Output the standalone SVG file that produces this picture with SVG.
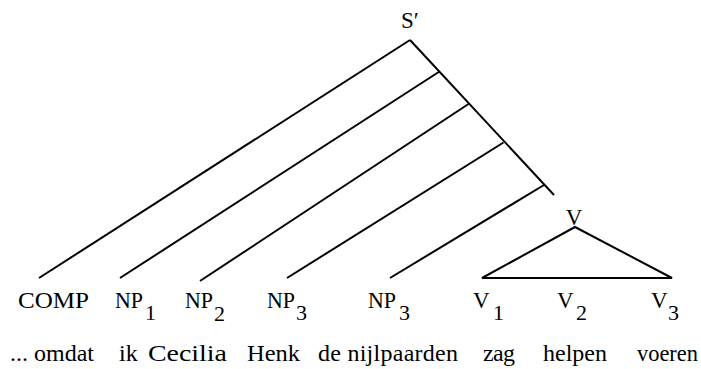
<svg xmlns="http://www.w3.org/2000/svg" width="701" height="369" viewBox="0 0 701 369">
<defs>
<style>
.e{stroke:#000;stroke-width:2;fill:none;stroke-linecap:butt}
.lbl{font-family:'Liberation Serif','Times New Roman',serif;font-size:23px;fill:#000}
.sub{font-size:22px}
.wd{font-family:'Liberation Serif','Times New Roman',serif;font-size:24px;fill:#000}
</style>
</defs>
<rect width="701" height="369" fill="#fff"/>
<g id="connectors">
<line class="e" x1="410" y1="40" x2="554" y2="195"/>
<line class="e" x1="410" y1="40" x2="39" y2="278"/>
<line class="e" x1="439.5" y1="71.5" x2="120" y2="278"/>
<line class="e" x1="468.5" y1="104" x2="200" y2="281"/>
<line class="e" x1="503.5" y1="142.5" x2="287" y2="278"/>
<line class="e" x1="544" y1="185" x2="390" y2="278"/>
<path class="e" d="M575 227 L482 278 L672 278 Z" stroke-linejoin="miter"/>
</g>
<g id="S"><text class="lbl" x="401" y="28" font-size="24">S′</text></g>
<g id="V"><text class="lbl" x="574" y="225" text-anchor="middle">V</text></g>
<g id="COMP"><text class="lbl" x="18" y="308" textLength="71" lengthAdjust="spacingAndGlyphs">COMP</text></g>
<g id="NP1"><text class="lbl" x="115" y="308" textLength="28" lengthAdjust="spacingAndGlyphs">NP</text><text class="lbl sub" x="145" y="320">1</text></g>
<g id="NP2"><text class="lbl" x="185" y="308" textLength="28" lengthAdjust="spacingAndGlyphs">NP</text><text class="lbl sub" x="214" y="321">2</text></g>
<g id="NP3a"><text class="lbl" x="267" y="308" textLength="28" lengthAdjust="spacingAndGlyphs">NP</text><text class="lbl sub" x="296" y="320">3</text></g>
<g id="NP3b"><text class="lbl" x="368" y="308" textLength="28" lengthAdjust="spacingAndGlyphs">NP</text><text class="lbl sub" x="399" y="320">3</text></g>
<g id="V1"><text class="lbl" x="473" y="308">V</text><text class="lbl sub" x="493" y="320">1</text></g>
<g id="V2"><text class="lbl" x="557" y="308">V</text><text class="lbl sub" x="576" y="320">2</text></g>
<g id="V3"><text class="lbl" x="651" y="308">V</text><text class="lbl sub" x="668" y="320">3</text></g>
<g id="words">
<text class="wd" x="10" y="361" textLength="84">... omdat</text>
<text class="wd" x="119" y="361">ik</text>
<text class="wd" x="148" y="361" textLength="79" lengthAdjust="spacingAndGlyphs">Cecilia</text>
<text class="wd" x="247" y="361" textLength="53" lengthAdjust="spacingAndGlyphs">Henk</text>
<text class="wd" x="318" y="361" textLength="140">de nijlpaarden</text>
<text class="wd" x="483" y="361" textLength="32">zag</text>
<text class="wd" x="543" y="361" textLength="64">helpen</text>
<text class="wd" x="637" y="361" textLength="61" lengthAdjust="spacingAndGlyphs">voeren</text>
</g>
</svg>
